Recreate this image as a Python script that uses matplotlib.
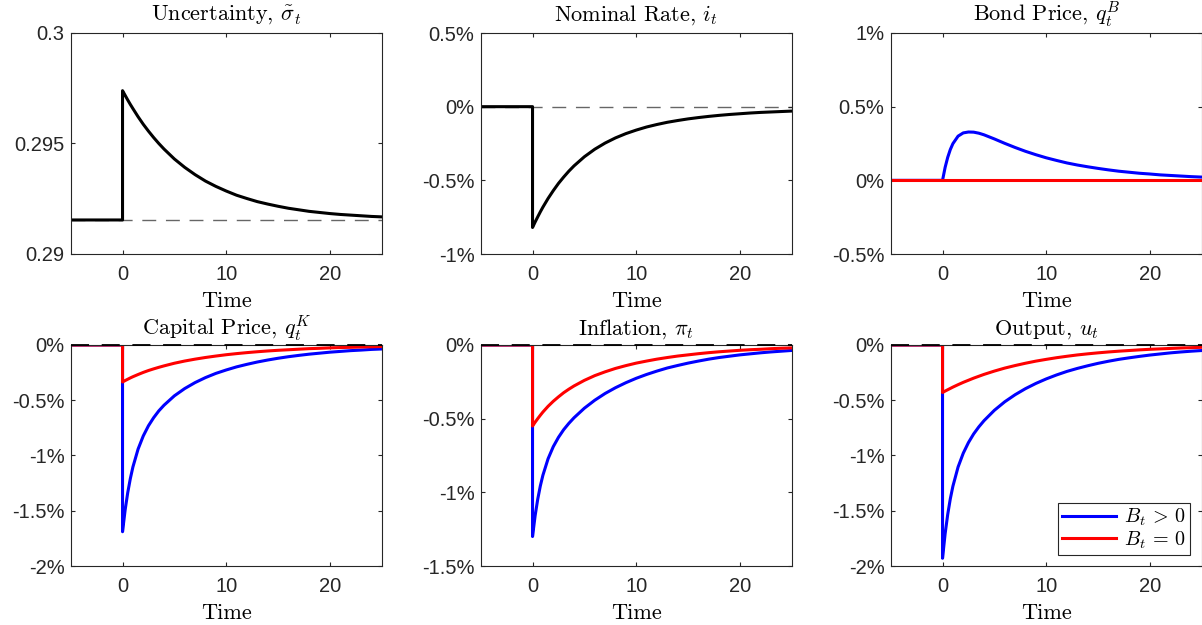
import matplotlib
matplotlib.use('Agg')
import matplotlib.pyplot as plt
from matplotlib.ticker import FixedLocator, FuncFormatter

# ---------------- data ----------------
T_PRE = [-5, 0]
T_POST = [0, 0.25, 0.5, 0.75, 1, 1.5, 2, 2.5, 3, 3.5, 4, 5, 6, 7, 8, 9, 10, 11, 12, 13,
          14, 15, 16, 17, 18, 19, 20, 21, 22, 23, 24, 25]

SS_UNCERTAINTY = 0.29154
UNCERTAINTY = [0.29739, 0.29718, 0.29697, 0.29677, 0.29658, 0.29621, 0.29587, 0.29556,
               0.29527, 0.29500, 0.29475, 0.29430, 0.29392, 0.29359, 0.29330, 0.29306,
               0.29285, 0.29266, 0.29251, 0.29237, 0.29226, 0.29216, 0.29207, 0.29200,
               0.29193, 0.29188, 0.29183, 0.29179, 0.29176, 0.29173, 0.29170, 0.29168]

NOMINAL_RATE = [-0.82, -0.783, -0.748, -0.714, -0.682, -0.623, -0.570, -0.521, -0.478,
                -0.438, -0.402, -0.340, -0.289, -0.247, -0.212, -0.183, -0.159, -0.138,
                -0.121, -0.106, -0.094, -0.083, -0.074, -0.066, -0.059, -0.053, -0.048,
                -0.043, -0.039, -0.036, -0.033, -0.030]

BOND_POS = [0, 0.088, 0.156, 0.209, 0.249, 0.300, 0.322, 0.328, 0.327, 0.320, 0.309,
            0.281, 0.251, 0.223, 0.197, 0.174, 0.153, 0.135, 0.118, 0.104, 0.092, 0.081,
            0.071, 0.062, 0.055, 0.048, 0.043, 0.037, 0.033, 0.029, 0.025, 0.022]
BOND_ZERO = [0] * 32

CAPITAL_POS = [-1.69, -1.494, -1.337, -1.210, -1.104, -0.942, -0.823, -0.731, -0.658,
               -0.596, -0.545, -0.460, -0.394, -0.340, -0.295, -0.257, -0.226, -0.198,
               -0.175, -0.154, -0.136, -0.120, -0.106, -0.094, -0.083, -0.074, -0.065,
               -0.058, -0.051, -0.046, -0.040, -0.036]
CAPITAL_ZERO = [-0.335, -0.322, -0.310, -0.298, -0.287, -0.267, -0.248, -0.231, -0.216,
                -0.202, -0.189, -0.165, -0.145, -0.128, -0.113, -0.100, -0.088, -0.078,
                -0.069, -0.061, -0.054, -0.048, -0.043, -0.038, -0.033, -0.030, -0.026,
                -0.023, -0.021, -0.018, -0.016, -0.014]

INFLATION_POS = [-1.30, -1.159, -1.047, -0.957, -0.884, -0.772, -0.690, -0.627, -0.575,
                 -0.532, -0.494, -0.429, -0.375, -0.329, -0.290, -0.256, -0.226, -0.200,
                 -0.177, -0.156, -0.139, -0.123, -0.109, -0.096, -0.085, -0.076, -0.067,
                 -0.060, -0.053, -0.047, -0.042, -0.037]
INFLATION_ZERO = [-0.55, -0.524, -0.500, -0.477, -0.455, -0.416, -0.382, -0.352, -0.324,
                  -0.300, -0.278, -0.240, -0.208, -0.182, -0.159, -0.140, -0.123, -0.109,
                  -0.096, -0.085, -0.075, -0.067, -0.059, -0.052, -0.046, -0.041, -0.036,
                  -0.032, -0.029, -0.025, -0.022, -0.020]

OUTPUT_POS = [-1.93, -1.709, -1.533, -1.392, -1.278, -1.104, -0.979, -0.883, -0.805,
              -0.741, -0.685, -0.591, -0.514, -0.450, -0.395, -0.348, -0.307, -0.271,
              -0.239, -0.212, -0.188, -0.166, -0.147, -0.130, -0.116, -0.103, -0.091,
              -0.081, -0.071, -0.063, -0.056, -0.050]
OUTPUT_ZERO = [-0.430, -0.417, -0.405, -0.393, -0.381, -0.359, -0.338, -0.319, -0.300,
               -0.283, -0.266, -0.236, -0.209, -0.186, -0.165, -0.146, -0.130, -0.115,
               -0.102, -0.090, -0.080, -0.071, -0.063, -0.056, -0.050, -0.044, -0.039,
               -0.035, -0.031, -0.027, -0.024, -0.021]

TITLES = [r'Uncertainty, $\tilde{\sigma}_t$', r'Nominal Rate, $i_t$', r'Bond Price, $q_t^B$',
          r'Capital Price, $q_t^K$', r'Inflation, $\pi_t$', r'Output, $u_t$']
YTICKS = [[0.29, 0.295, 0.3], [-1, -0.5, 0, 0.5], [-0.5, 0, 0.5, 1],
          [-2, -1.5, -1, -0.5, 0], [-1.5, -1, -0.5, 0], [-2, -1.5, -1, -0.5, 0]]
XTICKS = [0, 10, 20]
XLABEL = 'Time'
LEGEND_LABELS = [r'$B_t \,>\, 0$', r'$B_t \,=\, 0$']

# ---------------- style ----------------
plt.rcParams['mathtext.fontset'] = 'cm'
plt.rcParams['font.family'] = ['Liberation Sans', 'DejaVu Sans']

TICK_COLOR = '0.15'
LW = 2.2
SERIF_SIZE = 16

fig = plt.figure(figsize=(12.02, 6.25), dpi=100)
W, H = 1202.0, 625.0
lefts = [70.7, 480.7, 890.7]
tops = [33.0, 345.0]
aw, ah = 311.0, 221.0

axes = []
for r in range(2):
    for c in range(3):
        ax = fig.add_axes([lefts[c] / W, 1 - (tops[r] + ah) / H, aw / W, ah / H])
        axes.append(ax)

time = T_PRE + T_POST


def pct_fmt(v, pos):
    return f"{v:g}%"


def plain_fmt(v, pos):
    return f"{v:g}"


def style(ax, i):
    yt = YTICKS[i]
    ax.set_xlim(-5, 25)
    ax.set_ylim(yt[0], yt[-1])
    ax.xaxis.set_major_locator(FixedLocator(XTICKS))
    ax.yaxis.set_major_locator(FixedLocator(yt))
    ax.yaxis.set_major_formatter(FuncFormatter(plain_fmt if i == 0 else pct_fmt))
    ax.xaxis.set_major_formatter(FuncFormatter(plain_fmt))
    ax.tick_params(direction='in', length=3, width=0.8, top=True, right=True,
                   color=TICK_COLOR, labelcolor=TICK_COLOR, labelsize=14.5)
    ax.tick_params(axis='x', pad=8)
    ax.tick_params(axis='y', pad=4.5)
    for s in ax.spines.values():
        s.set_color(TICK_COLOR)
        s.set_linewidth(0.8)
    title_y = 1 + (12.0 if i < 3 else 10.0) / ah
    ax.text(0.5, title_y, TITLES[i], transform=ax.transAxes, ha='center', va='baseline',
            fontsize=SERIF_SIZE, family='cmr10')
    ax.text(0.5, -53.0 / ah, XLABEL, transform=ax.transAxes, ha='center', va='baseline',
            fontsize=SERIF_SIZE, family='cmr10')


def dashed(ax, level, top_edge=False):
    ax.plot([-5, 25], [level, level], color='k' if top_edge else '0.4',
            lw=1.3 if top_edge else 1.0, dashes=(10, 7), zorder=3 if top_edge else 1,
            clip_on=not top_edge)


# Uncertainty
ax = axes[0]
dashed(ax, SS_UNCERTAINTY)
ax.plot(time, [SS_UNCERTAINTY, SS_UNCERTAINTY] + UNCERTAINTY, color='k', lw=LW, zorder=2)
style(ax, 0)

# Nominal rate
ax = axes[1]
dashed(ax, 0)
ax.plot(time, [0, 0] + NOMINAL_RATE, color='k', lw=LW, zorder=2)
style(ax, 1)

# Bond price
ax = axes[2]
dashed(ax, 0)
ax.plot(time, [0, 0] + BOND_POS, color='b', lw=LW, zorder=2)
ax.plot(time, [0, 0] + BOND_ZERO, color='r', lw=LW, zorder=2)
style(ax, 2)

# bottom row
for k, (pos, zero) in enumerate([(CAPITAL_POS, CAPITAL_ZERO),
                                 (INFLATION_POS, INFLATION_ZERO),
                                 (OUTPUT_POS, OUTPUT_ZERO)]):
    ax = axes[3 + k]
    l1, = ax.plot(time, [0, 0] + pos, color='b', lw=LW, zorder=2, label=LEGEND_LABELS[0])
    l2, = ax.plot(time, [0, 0] + zero, color='r', lw=LW, zorder=2, label=LEGEND_LABELS[1])
    dashed(ax, 0, top_edge=True)
    style(ax, 3 + k)
    if k == 2:
        leg = ax.legend(handles=[l1, l2], loc='lower right', bbox_to_anchor=(0.962, 0.05),
                        borderaxespad=0, fontsize=14.5, fancybox=False, framealpha=1,
                        edgecolor=TICK_COLOR, handlelength=2.7, handletextpad=0.4,
                        labelspacing=0.05, borderpad=0.2)
        leg.get_frame().set_linewidth(0.8)

fig.savefig('out.png', dpi=100)
